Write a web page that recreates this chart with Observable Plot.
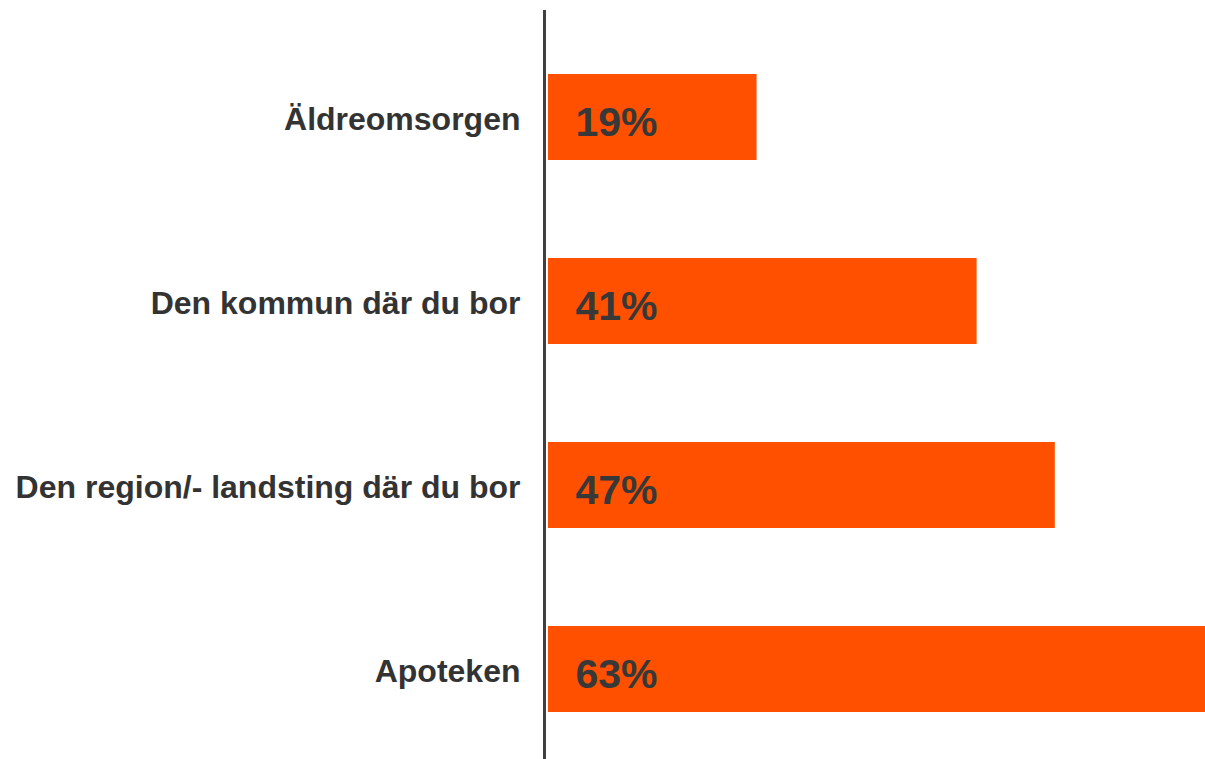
<!DOCTYPE html>
<html>
<head>
<meta charset="utf-8">
<script src="https://cdn.jsdelivr.net/npm/d3@7"></script>
<script src="https://cdn.jsdelivr.net/npm/@observablehq/plot@0.6"></script>
<style>
  html, body { margin: 0; padding: 0; background: #fff; }
  #chart svg { display: block; }
</style>
</head>
<body>
<div id="chart"></div>
<script>
const categories = ["Äldreomsorgen", "Den kommun där du bor", "Den region/- landsting där du bor", "Apoteken"];
const values = [20, 41.1, 48.6, 63];
const labels = ["19%", "41%", "47%", "63%"];

const data = categories.map((c, i) => ({ category: c, value: values[i], label: labels[i] }));

const font = "'Liberation Sans', Arial, sans-serif";

const chart = Plot.plot({
  width: 1205,
  height: 759,
  marginTop: 10,
  marginBottom: 0,
  marginLeft: 548,
  marginRight: 0,
  style: { fontFamily: font, background: "#fff" },
  x: { domain: [0, 63], range: [548, 1205], axis: null },
  y: { domain: categories, range: [24, 762], paddingInner: 0.534, paddingOuter: 0.267, axis: null },
  marks: [
    Plot.barX(data, { x: "value", y: "category", fill: "#FF5000" }),
    Plot.ruleX([0], { stroke: "#404040", strokeWidth: 3, dx: -4 }),
    Plot.text(data, {
      x: 0, y: "category", text: "category",
      textAnchor: "end", dx: -28, dy: 2,
      fontSize: 32, fontWeight: "bold", fill: "#333333"
    }),
    Plot.text(data, {
      x: 0, y: "category", text: "label",
      textAnchor: "start", dx: 27, dy: 5,
      fontSize: 41, fontWeight: "bold", fill: "#383838"
    })
  ]
});

document.getElementById("chart").appendChild(chart);
</script>
</body>
</html>
